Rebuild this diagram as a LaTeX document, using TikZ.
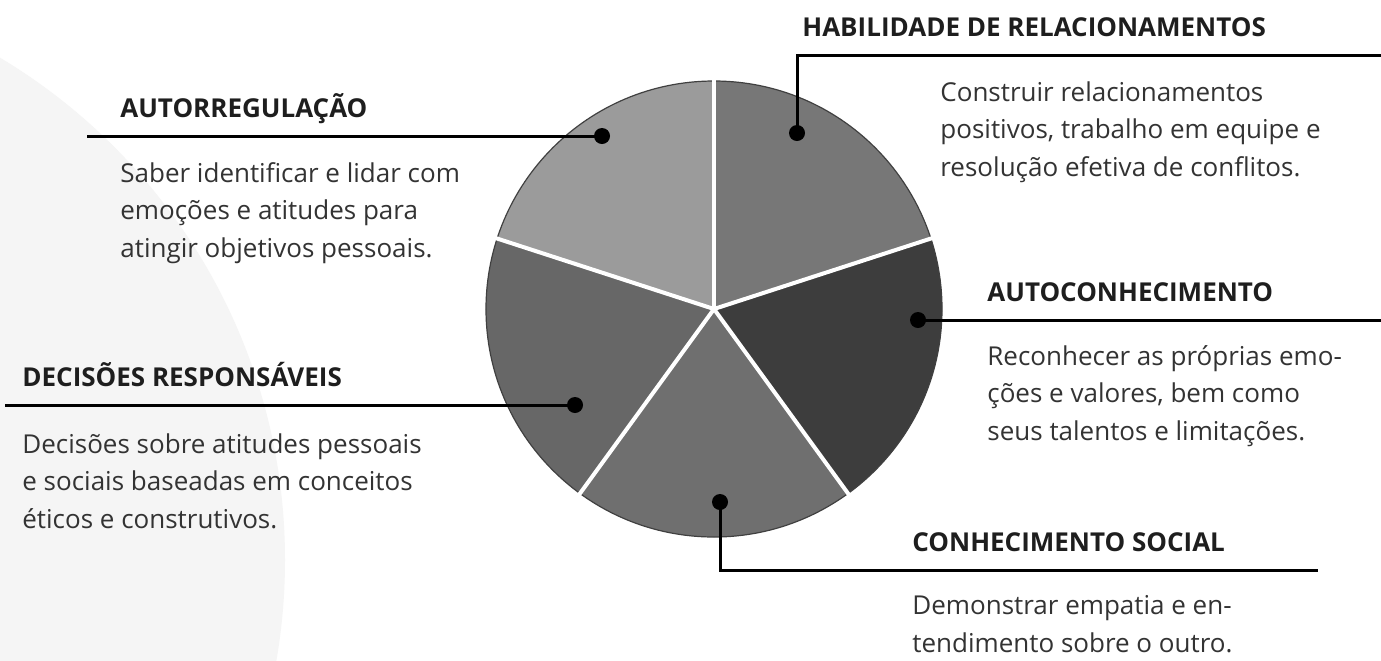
\documentclass[tikz,border=0pt]{standalone}
\usepackage{fontspec}
\setmainfont{Open Sans}
\definecolor{bgc}{HTML}{F5F5F5}
\definecolor{sA}{HTML}{9B9B9B}
\definecolor{sB}{HTML}{777777}
\definecolor{sC}{HTML}{3D3D3D}
\definecolor{sD}{HTML}{6F6F6F}
\definecolor{sE}{HTML}{676767}
\definecolor{ttl}{HTML}{1E1E1E}
\definecolor{txt}{HTML}{333333}
\tikzset{
  dot/.style={circle, fill=black, inner sep=0pt, minimum size=8pt},
  conn/.style={draw=black, line width=1.5pt},
  ttlnode/.style={anchor=base west, inner sep=0pt, text=ttl, font=\fontsize{13}{15}\selectfont\bfseries},
  txtnode/.style={anchor=base west, inner sep=0pt, align=left, text=txt, font=\fontsize{13}{18.75}\selectfont},
}
\begin{document}
\begin{tikzpicture}[x=0.5pt, y=-0.5pt]
\useasboundingbox (0,0) rectangle (1381,660);
\clip (0,0) rectangle (1381,660);
\fill[white] (0,0) rectangle (1381,660);
\fill[bgc] (-300,560) circle (585);
% pie
\begin{scope}[shift={(714,309)}, x=0.5pt, y=0.5pt]
  \fill[sA] (0,0) -- (90:228) arc[start angle=90, end angle=162, radius=228] -- cycle;
  \fill[sB] (0,0) -- (18:228) arc[start angle=18, end angle=90, radius=228] -- cycle;
  \fill[sC] (0,0) -- (-54:228) arc[start angle=-54, end angle=18, radius=228] -- cycle;
  \fill[sD] (0,0) -- (-126:228) arc[start angle=-126, end angle=-54, radius=228] -- cycle;
  \fill[sE] (0,0) -- (162:228) arc[start angle=162, end angle=234, radius=228] -- cycle;
  \draw[black!75, line width=0.6pt] (0,0) circle (228);
  \foreach \a in {90,18,-54,-126,162} \draw[white, line width=2pt] (0,0) -- (\a:231);
\end{scope}
% dots
\node[dot] (dA) at (602,136) {};
\node[dot] (dB) at (797,133) {};
\node[dot] (dC) at (918,320) {};
\node[dot] (dD) at (720,502) {};
\node[dot] (dE) at (575,405) {};
% connector ends
\coordinate (eA) at (87,136);
\coordinate (kB) at (797,55);
\coordinate (eB) at (1381,55);
\coordinate (eC) at (1381,320);
\coordinate (kD) at (720,570);
\coordinate (eD) at (1318,570);
\coordinate (eE) at (5,405);
\draw[conn] (dA.center) -- (eA);
\draw[conn] (dB.center) -- (kB) -- (eB);
\draw[conn] (dC.center) -- (eC);
\draw[conn] (dD.center) -- (kD) -- (eD);
\draw[conn] (dE.center) -- (eE);
% titles
\node[ttlnode] (tA) at (120,117) {AUTORREGULAÇÃO};
\node[ttlnode] (tB) at (802,36) {HABILIDADE DE RELACIONAMENTOS};
\node[ttlnode] (tC) at (987,301) {AUTOCONHECIMENTO};
\node[ttlnode] (tD) at (912,551) {CONHECIMENTO SOCIAL};
\node[ttlnode] (tE) at (22,386) {DECISÕES RESPONSÁVEIS};
% texts (anchored at the baseline of their last line)
\node[txtnode] (bA) at (120,257) {Saber identificar e lidar com\\emoções e atitudes para\\atingir objetivos pessoais.};
\node[txtnode] (bB) at (940,176) {Construir relacionamentos\\positivos, trabalho em equipe e\\resolução efetiva de conflitos.};
\node[txtnode] (bC) at (987,440) {Reconhecer as próprias emo-\\ções e valores, bem como\\seus talentos e limitações.};
\node[txtnode] (bD) at (912,652) {Demonstrar empatia e en-\\tendimento sobre o outro.};
\node[txtnode] (bE) at (22,528) {Decisões sobre atitudes pessoais\\e sociais baseadas em conceitos\\éticos e construtivos.};
\end{tikzpicture}
\end{document}
